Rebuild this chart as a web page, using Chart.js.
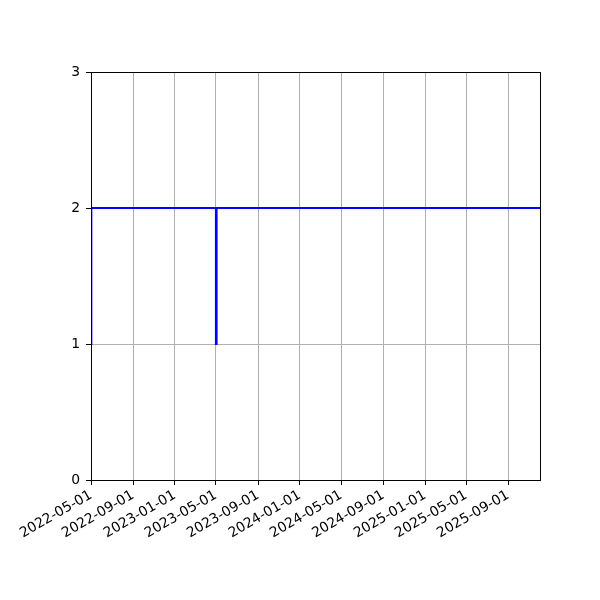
<!DOCTYPE html>
<html>
<head>
<meta charset="utf-8">
<script src="https://cdn.jsdelivr.net/npm/chart.js@4.4.1/dist/chart.umd.min.js"></script>
<style>
  html, body { margin: 0; padding: 0; background: #fff; }
  #wrap { width: 600px; height: 600px; }
</style>
</head>
<body>
<div id="wrap"><canvas id="chart" width="600" height="600"></canvas></div>
<script>
// step series: value changes at each date
var dates = ['2022-05-01', '2022-05-02', '2023-05-01', '2023-05-03', '2025-12-03'];
var counts = [1, 2, 1, 2, 2];

var xTickLabels = [
    '2022-05-01', '2022-09-01', '2023-01-01', '2023-05-01', '2023-09-01', '2024-01-01',
    '2024-05-01', '2024-09-01', '2025-01-01', '2025-05-01', '2025-09-01'
];
var yTickLabels = [0, 1, 2, 3];

var points = dates.map((d, i) => ({ x: Date.parse(d), y: counts[i] }));

// box round the plot area, like the axes frame
var frame = {
    id: 'frame',
    afterDatasetsDraw(chart) {
        var a = chart.chartArea;
        var ctx = chart.ctx;
        ctx.save();
        ctx.strokeStyle = '#000';
        ctx.lineWidth = 1;
        ctx.strokeRect(Math.round(a.left) + 0.5, Math.round(a.top) + 0.5,
            Math.round(a.right - a.left), Math.round(a.bottom - a.top));
        ctx.restore();
    }
};

var font = { family: 'DejaVu Sans', size: 13.9 };

new Chart(document.getElementById('chart'), {
    type: 'line',
    data: {
        datasets: [{
            data: points,
            borderColor: '#0000ff',
            borderWidth: 2,
            stepped: 'before',
            pointRadius: 0,
            fill: false
        }]
    },
    options: {
        responsive: false,
        animation: false,
        devicePixelRatio: 1,
        layout: { padding: { top: 72, right: 60, left: 0, bottom: 0 } },
        plugins: { legend: { display: false }, tooltip: { enabled: false } },
        scales: {
            x: {
                type: 'linear',
                min: Date.parse(dates[0]),
                max: Date.parse(dates[dates.length - 1]),
                afterBuildTicks: s => { s.ticks = xTickLabels.map(d => ({ value: Date.parse(d) })); },
                afterFit: s => { s.height = 120; },
                ticks: {
                    color: '#000',
                    font: font,
                    padding: 2,
                    minRotation: 30,
                    maxRotation: 30,
                    autoSkip: false,
                    callback: v => new Date(v).toISOString().slice(0, 10)
                },
                grid: { color: '#b0b0b0', tickColor: '#000', tickLength: 5, lineWidth: 1 },
                border: { color: '#000', width: 1 }
            },
            y: {
                min: 0,
                max: 3,
                afterBuildTicks: s => { s.ticks = yTickLabels.map(v => ({ value: v })); },
                afterFit: s => { s.width = 91; },
                ticks: { color: '#000', font: font, padding: 6 },
                grid: { color: '#b0b0b0', tickColor: '#000', tickLength: 5, lineWidth: 1 },
                border: { color: '#000', width: 1 }
            }
        }
    },
    plugins: [frame]
});
</script>
</body>
</html>
